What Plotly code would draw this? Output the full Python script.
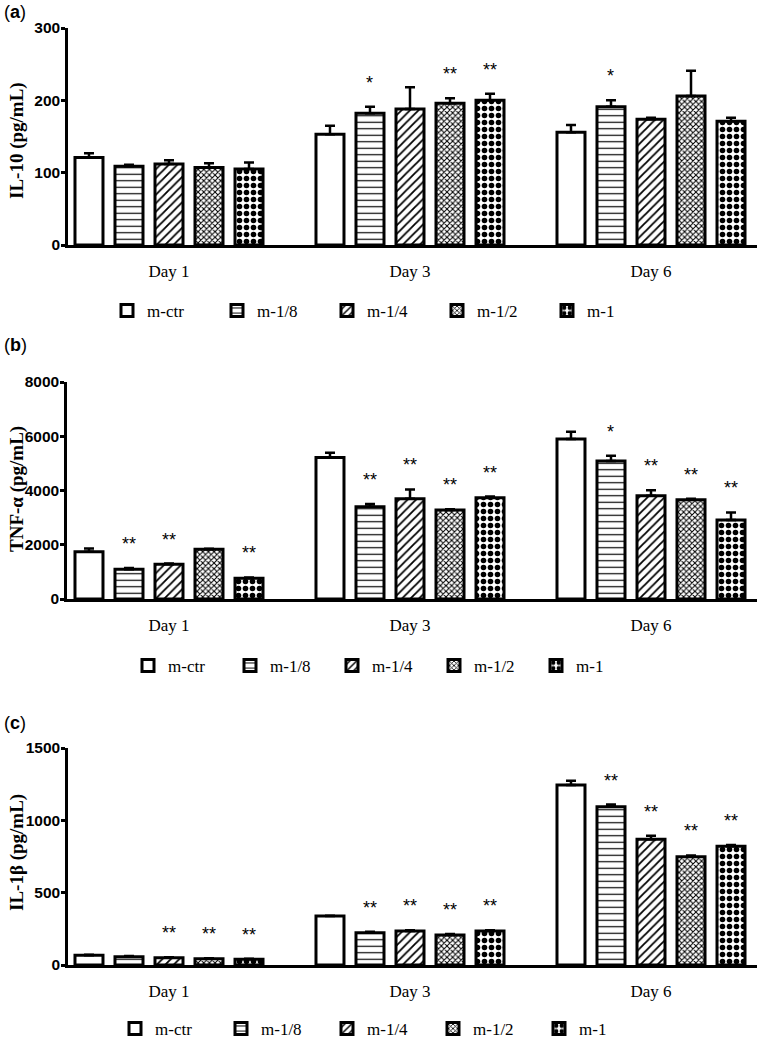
import plotly.graph_objects as go

days = ["Day 1", "Day 3", "Day 6"]
groups = ["m-ctr", "m-1/8", "m-1/4", "m-1/2", "m-1"]

# Panel (a) IL-10 (pg/mL): mean per group for Day 1, Day 3, Day 6
il10_mean = {
    "m-ctr": [121, 153, 156],
    "m-1/8": [109, 182, 191],
    "m-1/4": [112, 188, 174],
    "m-1/2": [107, 196, 206],
    "m-1":   [105, 200, 171],
}
il10_sd = {
    "m-ctr": [6, 12, 10],
    "m-1/8": [2, 9, 9],
    "m-1/4": [5, 30, 2],
    "m-1/2": [6, 7, 35],
    "m-1":   [9, 9, 5],
}
il10_sig = {
    "m-ctr": ["", "", ""],
    "m-1/8": ["", "*", "*"],
    "m-1/4": ["", "", ""],
    "m-1/2": ["", "**", ""],
    "m-1":   ["", "**", ""],
}

# Panel (b) TNF-alpha (pg/mL)
tnf_mean = {
    "m-ctr": [1740, 5220, 5900],
    "m-1/8": [1095, 3400, 5085],
    "m-1/4": [1280, 3700, 3810],
    "m-1/2": [1830, 3280, 3660],
    "m-1":   [765, 3735, 2910],
}
tnf_sd = {
    "m-ctr": [120, 170, 270],
    "m-1/8": [50, 100, 200],
    "m-1/4": [25, 340, 200],
    "m-1/2": [20, 30, 40],
    "m-1":   [30, 40, 280],
}
tnf_sig = {
    "m-ctr": ["", "", ""],
    "m-1/8": ["**", "**", "*"],
    "m-1/4": ["**", "**", "**"],
    "m-1/2": ["", "**", "**"],
    "m-1":   ["**", "**", "**"],
}

# Panel (c) IL-1beta (pg/mL)
il1b_mean = {
    "m-ctr": [67, 339, 1244],
    "m-1/8": [57, 223, 1094],
    "m-1/4": [50, 235, 869],
    "m-1/2": [44, 207, 749],
    "m-1":   [39, 235, 820],
}
il1b_sd = {
    "m-ctr": [4, 2, 30],
    "m-1/8": [5, 6, 15],
    "m-1/4": [3, 5, 25],
    "m-1/2": [3, 8, 8],
    "m-1":   [5, 6, 10],
}
il1b_sig = {
    "m-ctr": ["", "", ""],
    "m-1/8": ["", "**", "**"],
    "m-1/4": ["**", "**", "**"],
    "m-1/2": ["**", "**", "**"],
    "m-1":   ["**", "**", "**"],
}

panel_letters = ["a", "b", "c"]
y_titles = ["IL-10 (pg/mL)", "TNF-α (pg/mL)", "IL-1β (pg/mL)"]
y_max = [300, 8000, 1500]
y_dtick = [100, 2000, 500]

# ---------------- styling / layout ----------------
W, H = 760, 1038


def xp(px):
    return px / W


def yp(py):
    return 1 - py / H


patterns = {
    "m-ctr": dict(shape=""),
    "m-1/8": dict(shape="-", size=6.5, solidity=0.18, fgcolor="black", bgcolor="white", fillmode="replace"),
    "m-1/4": dict(shape="/", size=6, solidity=0.3, fgcolor="black", bgcolor="white", fillmode="replace"),
    "m-1/2": dict(shape="x", size=4, solidity=0.45, fgcolor="black", bgcolor="white", fillmode="replace"),
    "m-1":   dict(shape=".", size=7, solidity=0.5, fgcolor="black", bgcolor="white", fillmode="replace"),
}

BARGAP = 0.17
BARGROUPGAP = 0.3

# pixel geometry of panels in page pixels
panel_px = [
    dict(top=28, bottom=245, left=68, title_y=141, label_y=12, leg_y=311, leg_x=107, leg_w=110),
    dict(top=382, bottom=599, left=67, title_y=489, label_y=345, leg_y=666, leg_x=128, leg_w=102),
    dict(top=748, bottom=965, left=68, title_y=853, label_y=723, leg_y=1029, leg_x=115, leg_w=106),
]
RIGHT = 757
FIRST_GROUP_CENTER = 169
GROUP_STEP = 241

means = [il10_mean, tnf_mean, il1b_mean]
sds = [il10_sd, tnf_sd, il1b_sd]
sigs = [il10_sig, tnf_sig, il1b_sig]

fig = go.Figure()
annotations = []
serif = "Liberation Serif"
sans = "Liberation Sans"

for p in range(3):
    sfx = "" if p == 0 else str(p + 1)
    leg = "legend" if p == 0 else f"legend{p + 1}"
    for g in groups:
        fig.add_trace(go.Bar(
            x=days, y=means[p][g], name=g,
            xaxis="x" + sfx, yaxis="y" + sfx,
            legend=leg,
            marker=dict(color="white", line=dict(color="black", width=3),
                        pattern=patterns[g]),
            error_y=dict(type="data", array=sds[p][g], arrayminus=[0, 0, 0],
                         symmetric=False, color="black", thickness=2.5, width=5),
        ))
    px = panel_px[p]
    xr0 = -(FIRST_GROUP_CENTER - px["left"]) / GROUP_STEP
    xr1 = 2 + (RIGHT - (FIRST_GROUP_CENTER + 2 * GROUP_STEP)) / GROUP_STEP
    fig.update_layout(**{
        "xaxis" + sfx: dict(
            domain=[xp(px["left"]), xp(RIGHT)], anchor="y" + sfx,
            range=[xr0, xr1], showline=True, linecolor="black", linewidth=2.5,
            ticks="", showgrid=False, zeroline=False, automargin=False,
            tickfont=dict(family=serif, size=17, color="black"),
            ticklabelstandoff=9,
        ),
        "yaxis" + sfx: dict(
            domain=[yp(px["bottom"]), yp(px["top"])], anchor="x" + sfx,
            range=[0, y_max[p]], dtick=y_dtick[p], showline=True, linecolor="black",
            linewidth=2.5, ticks="outside", ticklen=4, tickwidth=2.5, tickcolor="black",
            showgrid=False, zeroline=False, automargin=False,
            tickfont=dict(family=sans, size=15.5, color="black", weight="bold"),
            ticklabelstandoff=-2,
        ),
        leg: dict(
            orientation="h", x=xp(px["leg_x"]), xanchor="left",
            y=yp(px["leg_y"]), yanchor="middle",
            entrywidth=px["leg_w"] - 45, entrywidthmode="pixels",
            font=dict(family=serif, size=17, color="black"),
            bgcolor="rgba(0,0,0,0)", traceorder="normal",
        ),
    })
    # y-axis title
    annotations.append(dict(
        text="<b>" + y_titles[p] + "</b>", xref="paper", yref="paper",
        x=xp(17), y=yp(px["title_y"]), textangle=-90, showarrow=False,
        font=dict(family=serif, size=19, color="black"),
        xanchor="center", yanchor="middle",
    ))
    # panel letter
    annotations.append(dict(
        text="(<b>" + panel_letters[p] + "</b>)", xref="paper", yref="paper",
        x=xp(2), y=yp(px["label_y"]), showarrow=False,
        font=dict(family=sans, size=18, color="black"),
        xanchor="left", yanchor="middle",
    ))
    # significance marks
    slot = (1 - BARGAP) / len(groups)
    for gi, g in enumerate(groups):
        for di in range(3):
            s = sigs[p][g][di]
            if not s:
                continue
            annotations.append(dict(
                text=s, xref="x" + sfx, yref="y" + sfx,
                x=di + (gi - 2) * slot, y=means[p][g][di] + sds[p][g][di],
                showarrow=False, yanchor="middle", yshift=24,
                font=dict(family=sans, size=18, color="black"),
            ))

fig.update_layout(
    width=W, height=H,
    margin=dict(l=0, r=0, t=0, b=0, autoexpand=False),
    paper_bgcolor="white", plot_bgcolor="white",
    barmode="group", bargap=BARGAP, bargroupgap=BARGROUPGAP,
    annotations=annotations,
    showlegend=True,
)

fig.write_html("out.html", config={"displayModeBar": False},
               post_script="document.body.style.margin='0px';document.body.style.overflow='hidden';")
